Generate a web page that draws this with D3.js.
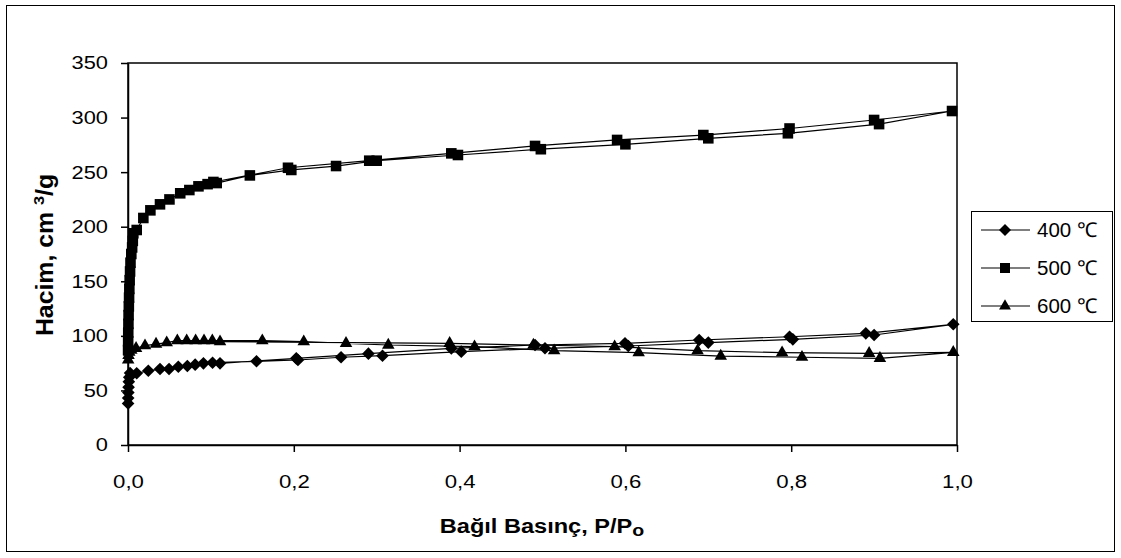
<!DOCTYPE html>
<html>
<head>
<meta charset="utf-8">
<script src="https://cdn.jsdelivr.net/npm/d3@7"></script>
<style>
  body { margin: 0; background: #fff; }
  svg { display: block; font-family: "Liberation Sans", Arial, sans-serif; }
</style>
</head>
<body>
<div id="chart"></div>
<script>
// axis ticks
const xTicks = [0, 0.2, 0.4, 0.6, 0.8, 1.0];
const xTickLabels = ["0,0", "0,2", "0,4", "0,6", "0,8", "1,0"];
const yTicks = [0, 50, 100, 150, 200, 250, 300, 350];

const seriesNames = ["400 ℃", "500 ℃", "600 ℃"];

// [P/Po, volume] - adsorption branch, then desorption branch
const ads400 = [[0.0001, 38], [0.0002, 43], [0.0004, 48], [0.0007, 53], [0.001, 58], [0.0015, 62],
  [0.0025, 66], [0.0105, 65.7], [0.0245, 68], [0.0386, 69.6], [0.0495, 69.6], [0.0607, 71.7],
  [0.0716, 72.4], [0.081, 73.6], [0.091, 74.8], [0.102, 75.4], [0.155, 76.7], [0.205, 77.9],
  [0.257, 80.4], [0.307, 81.8], [0.402, 85.5], [0.503, 88.6], [0.6035, 90.7], [0.70, 93.8],
  [0.802, 96.8], [0.90, 100.8], [0.9955, 110.6]];
const des400 = [[0.89, 102.3], [0.798, 99.2], [0.689, 96.2], [0.5995, 93.2], [0.491, 91.6],
  [0.39, 88.5], [0.29, 83.7], [0.203, 79.4], [0.111, 74.8]];

const ads500 = [[0.0001, 87], [0.0002, 95], [0.0003, 103], [0.0005, 111], [0.0007, 119], [0.001, 127],
  [0.0013, 135], [0.0016, 143], [0.002, 151], [0.0025, 159], [0.003, 167], [0.004, 175],
  [0.005, 181], [0.0058, 187], [0.0064, 194], [0.0105, 197], [0.0185, 208], [0.027, 215],
  [0.0386, 220.5], [0.05, 225], [0.063, 230.6], [0.074, 233.6], [0.085, 237], [0.096, 239],
  [0.107, 240], [0.147, 247], [0.197, 252], [0.251, 255.6], [0.30, 260.5], [0.398, 265.7],
  [0.498, 271], [0.60, 275.5], [0.70, 281], [0.796, 285.6], [0.906, 294], [0.994, 306]];
const des500 = [[0.90, 297.8], [0.798, 290], [0.694, 284], [0.59, 279.5], [0.491, 274],
  [0.39, 267.2], [0.291, 260.5], [0.193, 254], [0.103, 241]];

const ads600 = [[0.0002, 78], [0.0006, 82], [0.0015, 85], [0.004, 87], [0.0097, 88.6], [0.0205, 91],
  [0.0338, 92.5], [0.0467, 93.8], [0.0595, 95.6], [0.0708, 95.6], [0.0816, 95.6], [0.0917, 95.6],
  [0.1017, 95.6], [0.162, 95.6], [0.212, 94.7], [0.263, 93.2], [0.314, 91.6], [0.418, 90.1],
  [0.514, 86.4], [0.616, 84.6], [0.715, 81.5], [0.813, 80.4], [0.907, 79.4], [0.9955, 84.9]];
const des600 = [[0.894, 84], [0.789, 84.6], [0.687, 86.4], [0.587, 90.1], [0.489, 91.6],
  [0.388, 93.2], [0.111, 94.7]];

const series = [
  { name: seriesNames[0], points: ads400.concat(des400), symbol: "diamond" },
  { name: seriesNames[1], points: ads500.concat(des500), symbol: "square" },
  { name: seriesNames[2], points: ads600.concat(des600), symbol: "triangle" }
];

function markerPath(type, scale) {
  const k = scale || 1;
  if (type === "square") return d3.symbol().type(d3.symbolSquare).size(112 * k)();
  if (type === "triangle") return d3.symbol().type(d3.symbolTriangle).size(68 * k)();
  return d3.symbol().type(d3.symbolSquare).size(80 * k)();
}

// widen text horizontally (the reference is a bit stretched)
function stretchText(sel, sx) {
  sel.each(function() {
    const t = d3.select(this);
    const x = +t.attr("x") || 0;
    t.attr("x", x / sx).attr("transform", `scale(${sx},1)`);
  });
}

function drawChart() {
  const W = 1121, H = 558;
  const plot = { left: 128, right: 957, top: 63, bottom: 445 };

  const svg = d3.select("#chart").append("svg")
    .attr("width", W)
    .attr("height", H);

  // outer frame
  svg.append("rect")
    .attr("x", 6.5).attr("y", 5.5)
    .attr("width", 1108).attr("height", 546)
    .attr("fill", "none")
    .attr("stroke", "#000")
    .attr("stroke-width", 1);

  const x = d3.scaleLinear().domain([0, 1]).range([plot.left, plot.right]);
  const y = d3.scaleLinear().domain([0, 350]).range([plot.bottom, plot.top]);

  // plot frame (top and right edges)
  svg.append("rect")
    .attr("x", plot.left).attr("y", plot.top)
    .attr("width", plot.right - plot.left).attr("height", plot.bottom - plot.top)
    .attr("fill", "none")
    .attr("stroke", "#000")
    .attr("stroke-width", 1.5);

  // axes
  const yAxis = svg.append("g")
    .attr("transform", `translate(${plot.left},0)`)
    .call(d3.axisLeft(y).tickValues(yTicks).tickSize(7).tickSizeOuter(0).tickPadding(13));
  yAxis.selectAll("text")
    .style("font-size", "18.5px")
    .style("fill", "#000");
  stretchText(yAxis.selectAll("text"), 1.18);

  const xAxis = svg.append("g")
    .attr("transform", `translate(0,${plot.bottom})`)
    .call(d3.axisBottom(x).tickValues(xTicks).tickSize(7).tickSizeOuter(0).tickPadding(23)
      .tickFormat((d, i) => xTickLabels[i]));
  xAxis.selectAll("text")
    .style("font-size", "18.5px")
    .style("fill", "#000");
  stretchText(xAxis.selectAll("text"), 1.2);

  svg.selectAll(".domain, .tick line")
    .attr("stroke", "#000")
    .attr("stroke-width", 1.5);

  // axis titles
  const xt = svg.append("text")
    .attr("transform", "translate(542,533) scale(1.15,1)")
    .attr("text-anchor", "middle")
    .style("font-size", "20.5px")
    .style("font-weight", "bold");
  xt.append("tspan").text("Bağıl Basınç, P/P");
  xt.append("tspan").attr("dy", 3).style("font-size", "17px").text("o");

  const yt = svg.append("text")
    .attr("transform", "translate(53,255) rotate(-90) scale(1.08,1)")
    .attr("text-anchor", "middle")
    .style("font-size", "23px")
    .style("font-weight", "bold");
  yt.append("tspan").text("Hacim, cm ");
  yt.append("tspan").attr("dy", -9).style("font-size", "15px").text("3");
  yt.append("tspan").attr("dy", 9).text("/g");

  // series lines and markers
  const line = d3.line().x(d => x(d[0])).y(d => y(d[1]));

  series.forEach(s => {
    svg.append("path")
      .datum(s.points)
      .attr("d", line)
      .attr("fill", "none")
      .attr("stroke", "#000")
      .attr("stroke-width", 1.2);

    svg.append("g").selectAll("path")
      .data(s.points)
      .enter()
      .append("path")
      .attr("d", markerPath(s.symbol))
      .attr("transform", d => `translate(${x(d[0])},${y(d[1])})` + (s.symbol === "diamond" ? " rotate(45)" : ""))
      .attr("fill", "#000");
  });

  // legend
  const legend = svg.append("g");
  legend.append("rect")
    .attr("x", 971.5).attr("y", 211.5)
    .attr("width", 141).attr("height", 110)
    .attr("fill", "#fff")
    .attr("stroke", "#000")
    .attr("stroke-width", 1);

  const rows = legend.selectAll(".legend-row")
    .data(series)
    .enter()
    .append("g")
    .attr("class", "legend-row")
    .attr("transform", (d, i) => `translate(0,${230 + i * 38})`);

  rows.append("line")
    .attr("x1", 981).attr("x2", 1030)
    .attr("stroke", "#000")
    .attr("stroke-width", 1.2);

  rows.append("path")
    .attr("d", d => markerPath(d.symbol, 0.9))
    .attr("transform", d => "translate(1005,0)" + (d.symbol === "diamond" ? " rotate(45)" : ""))
    .attr("fill", "#000");

  rows.append("text")
    .attr("x", 1037)
    .attr("dy", "0.36em")
    .style("font-size", "20.5px")
    .text(d => d.name);
}

drawChart();
</script>
</body>
</html>
